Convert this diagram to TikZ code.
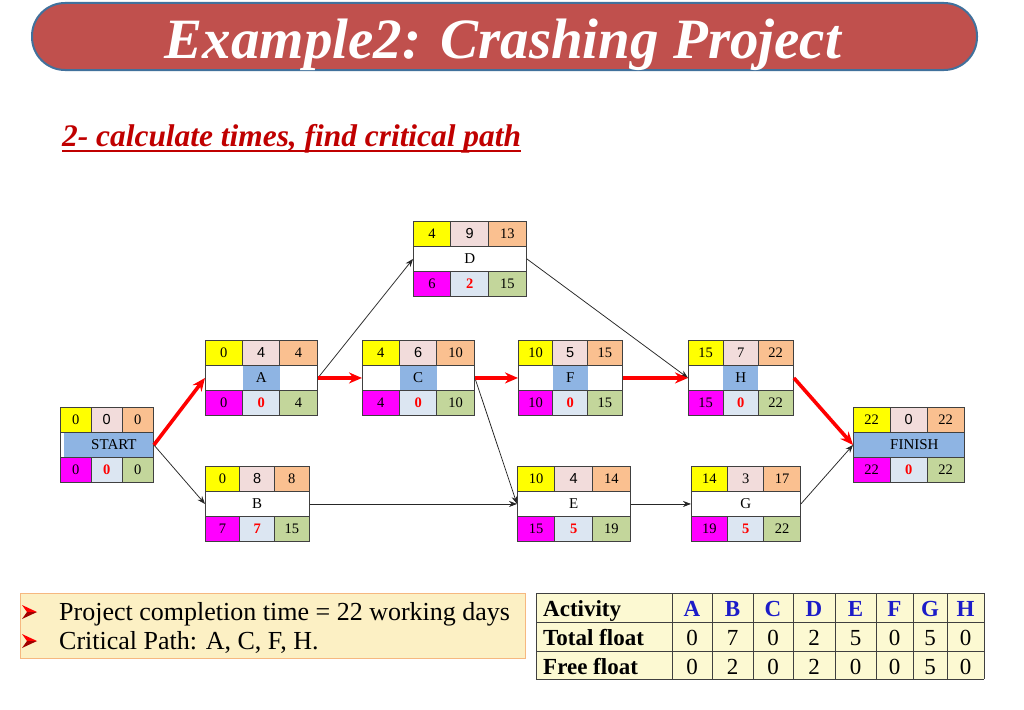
\documentclass[tikz,border=0pt]{standalone}
\usepackage{fontspec}
\setmainfont{Liberation Serif}
\setsansfont{Liberation Sans}
\usetikzlibrary{arrows.meta,calc}

\definecolor{cyel}{HTML}{FFFF00}
\definecolor{cpink}{HTML}{F2DCDB}
\definecolor{corange}{HTML}{FAC090}
\definecolor{cmag}{HTML}{FF00FF}
\definecolor{clb}{HTML}{DCE6F2}
\definecolor{cgreen}{HTML}{C3D69B}
\definecolor{cblue}{HTML}{8EB4E3}
\definecolor{cborder}{HTML}{404040}
\definecolor{titlefill}{HTML}{C0504D}
\definecolor{titleline}{HTML}{41719C}
\definecolor{subred}{HTML}{C00000}
\definecolor{notefill}{HTML}{FCF0C4}
\definecolor{noteline}{HTML}{F6B880}
\definecolor{tabfill}{HTML}{FCF9D2}
\definecolor{hdrblue}{HTML}{1C1CC8}
\definecolor{bulletdark}{HTML}{A00000}

\tikzset{
  cellfill/.style={inner sep=0pt, anchor=north west, minimum height=25pt,
    font=\fontsize{14.5}{14.5}\selectfont},
  labeltext/.style={font=\fontsize{15}{15}\selectfont},
  gridline/.style={draw=cborder, line width=0.9pt},
  redarrow/.style={draw=red, line width=3.6pt, -{Stealth[length=13pt,width=11pt]}},
  blackarrow/.style={draw=black!85, line width=0.75pt, -{Stealth[length=8pt,width=6pt]}},
  notetext/.style={anchor=base west, inner sep=0pt, font=\fontsize{26}{30}\selectfont},
  tabbold/.style={anchor=base west, inner sep=0pt, font=\fontsize{23}{26}\selectfont\bfseries},
  tabhead/.style={anchor=base, inner sep=0pt, text=hdrblue, font=\fontsize{23}{26}\selectfont\bfseries},
  tabnum/.style={anchor=base, inner sep=0pt, font=\fontsize{23}{26}\selectfont},
  arrowbullet/.pic={
    \fill[red] (0,-7) -- (15,0) -- (5,0) -- cycle;
    \fill[bulletdark] (0,7) -- (15,0) -- (5,0) -- cycle;
  }
}

% name, x, y, w, label, rowfill, midfill, ES
\newcommand\actbox[8]{%
  \def\abname{#1}\def\abx{#2}\def\aby{#3}\def\abw{#4}%
  \def\ablab{#5}\def\abrow{#6}\def\abmid{#7}\def\abES{#8}%
  \actboxrest}
% D, EF, LS, TF, LF
\newcommand\actboxrest[5]{%
  \pgfmathsetmacro\abc{\abw/3}%
  \node[cellfill, fill=cyel, minimum width=\abc pt] at (\abx,\aby) {\abES};
  \node[cellfill, fill=cpink, minimum width=\abc pt] at (\abx+\abc,\aby) {#1};
  \node[cellfill, fill=corange, minimum width=\abc pt] at (\abx+2*\abc,\aby) {#2};
  \node[cellfill, fill=\abrow, minimum width=\abw pt] at (\abx,\aby+25) {};
  \node[cellfill, fill=\abmid, minimum width=\abc pt, labeltext] at (\abx+\abc,\aby+25) {\ablab};
  \node[cellfill, fill=cmag, minimum width=\abc pt] at (\abx,\aby+50) {#3};
  \node[cellfill, fill=clb, minimum width=\abc pt, text=red, font=\fontsize{14.5}{14.5}\selectfont\bfseries] at (\abx+\abc,\aby+50) {#4};
  \node[cellfill, fill=cgreen, minimum width=\abc pt] at (\abx+2*\abc,\aby+50) {#5};
  \draw[gridline] (\abx,\aby+25) -- ++(\abw,0);
  \draw[gridline] (\abx,\aby+50) -- ++(\abw,0);
  \draw[gridline] (\abx+\abc,\aby) -- ++(0,25);
  \draw[gridline] (\abx+2*\abc,\aby) -- ++(0,25);
  \draw[gridline] (\abx+\abc,\aby+50) -- ++(0,25);
  \draw[gridline] (\abx+2*\abc,\aby+50) -- ++(0,25);
  \node[gridline, inner sep=0pt, anchor=north west, minimum width=\abw pt, minimum height=75pt] (\abname) at (\abx,\aby) {};
}

\begin{document}
\begin{tikzpicture}[x=1pt,y=-1pt]
\useasboundingbox (0,0) rectangle (1024,709);
\fill[white] (0,0) rectangle (1024,709);

% title
\node[draw=titleline, line width=2pt, fill=titlefill, rounded corners=33pt,
      minimum width=945pt, minimum height=67pt, inner sep=0pt] (title) at (504.5,36.5) {};
\node[anchor=base, inner sep=0pt, text=white,
      font=\fontsize{57}{60}\selectfont\bfseries\itshape] (titletext) at (503,59) {Example2: Crashing Project};

% subtitle
\node[anchor=base west, inner sep=0pt, text=subred,
      font=\fontsize{31.4}{36}\selectfont\bfseries\itshape] (sub) at (62,146) {2- calculate times, find critical path};
\draw[subred, line width=2pt] ([yshift=-4.5pt]sub.base west) -- ([yshift=-4.5pt]sub.base east);

% activity boxes
\actbox{START}{60}{407}{93}{START}{cblue}{cblue}{0}{{\sffamily 0}}{0}{0}{0}{0}
\fill[white] (60.5,432.5) rectangle (64,456.5);
\actbox{A}{205}{340}{112}{A}{white}{cblue}{0}{{\sffamily 4}}{4}{0}{0}{4}
\actbox{C}{362}{340}{112}{C}{white}{cblue}{4}{{\sffamily 6}}{10}{4}{0}{10}
\actbox{D}{413}{221}{113}{D}{white}{white}{4}{{\sffamily 9}}{13}{6}{2}{15}
\actbox{F}{518}{340}{104}{F}{white}{cblue}{10}{{\sffamily 5}}{15}{10}{0}{15}
\actbox{H}{688}{340}{105}{H}{white}{cblue}{15}{7}{22}{15}{0}{22}
\actbox{FINISH}{853}{407}{111}{FINISH}{cblue}{cblue}{22}{{\sffamily 0}}{22}{22}{0}{22}
\actbox{B}{205}{466}{104}{B}{white}{white}{0}{{\sffamily 8}}{8}{7}{7}{15}
\actbox{E}{517}{466}{113}{E}{white}{white}{10}{{\sffamily 4}}{14}{15}{5}{19}
\actbox{G}{691}{466}{109}{G}{white}{white}{14}{3}{17}{19}{5}{22}

% connectors
\draw[blackarrow] (START.east) -- (B.west);
\draw[blackarrow] (A.east) -- (D.west);
\draw[blackarrow] (C.east) -- (E.west);
\draw[blackarrow] (D.east) -- (H.west);
\draw[blackarrow] (B.east) -- (E.west);
\draw[blackarrow] (E.east) -- (G.west);
\draw[blackarrow] (G.east) -- (FINISH.west);
\draw[redarrow] (START.east) -- (A.west);
\draw[redarrow] (A.east) -- (C.west);
\draw[redarrow] (C.east) -- (F.west);
\draw[redarrow] (F.east) -- (H.west);
\draw[redarrow] (H.east) -- (FINISH.west);

% note box
\node[draw=noteline, fill=notefill, line width=1pt, inner sep=0pt, anchor=north west,
      minimum width=505pt, minimum height=65pt] (note) at (20,593) {};
\pic at (22,612) {arrowbullet};
\pic at (22,641) {arrowbullet};
\node[notetext] (note1) at (59,620) {Project completion time = 22 working days};
\node[notetext] (note2) at (59,649) {Critical Path: A, C, F, H.};

% float table
\fill[tabfill] (536,593) rectangle (984,679);
\foreach \yy in {593,622,651,679} \draw[gridline] (536,\yy) -- (984,\yy);
\foreach \xx in {536,672,712,753,793,835,876,913,947,984} \draw[gridline] (\xx,593) -- (\xx,679);
\node[tabbold] (tact) at (543,616) {Activity};
\node[tabbold] (ttot) at (543,645) {Total float};
\node[tabbold] (tfree) at (543,674) {Free float};
\foreach \l/\xx/\tf/\ff in {A/692/0/0, B/732.5/7/2, C/773/0/0, D/814/2/2, E/855.5/5/0, F/894.5/0/0, G/930/5/5, H/965.5/0/0}{
  \node[tabhead] (th\l) at (\xx,616) {\l};
  \node[tabnum] (tt\l) at (\xx,645) {\tf};
  \node[tabnum] (tf\l) at (\xx,674) {\ff};
}
\end{tikzpicture}
\end{document}
